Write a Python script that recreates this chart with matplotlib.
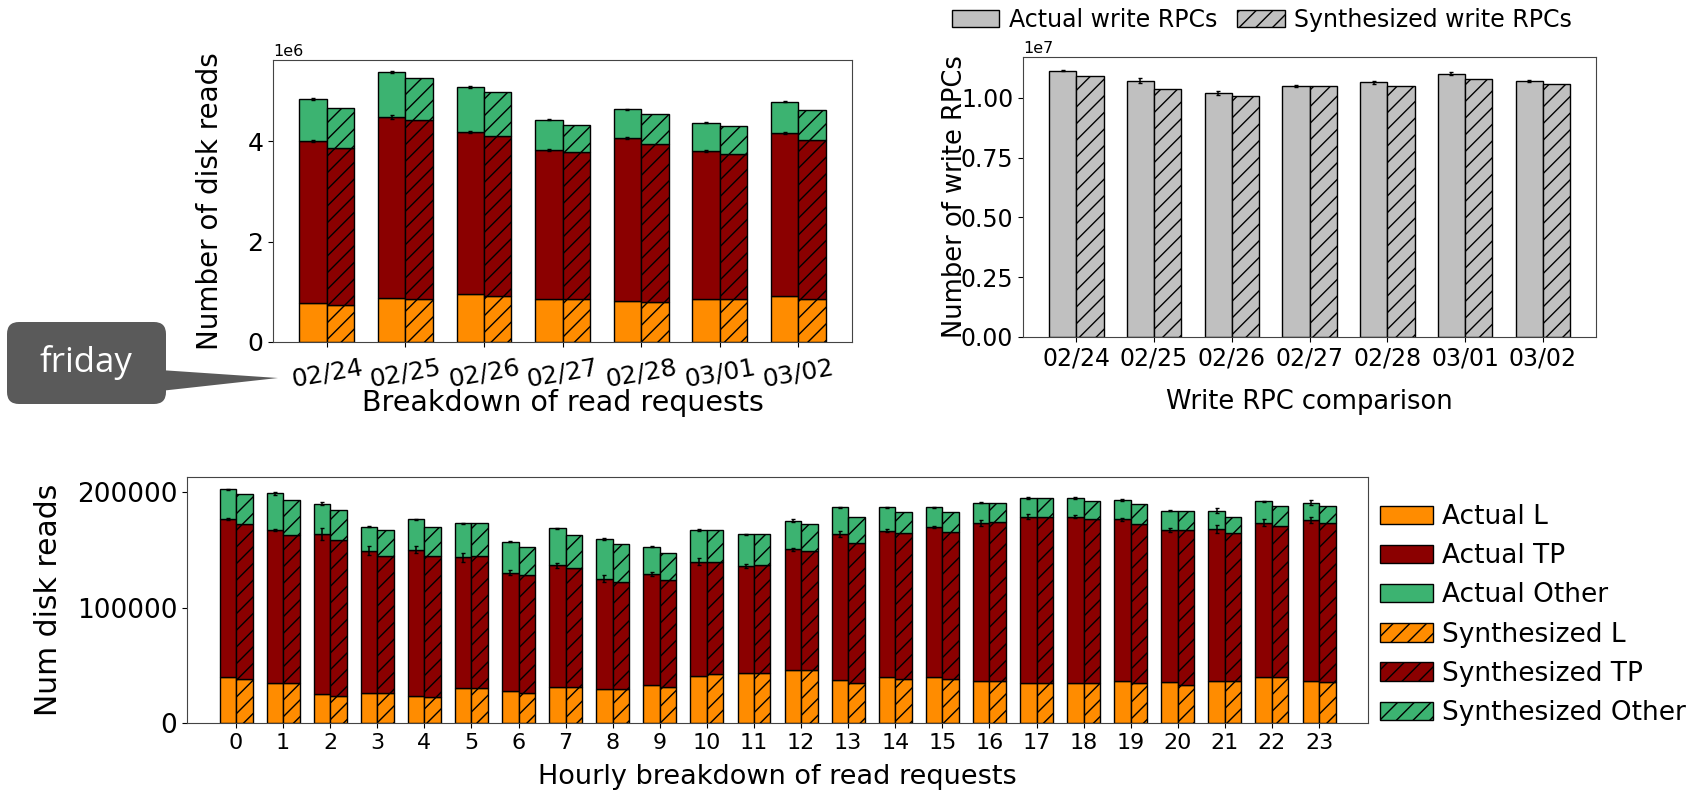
import numpy as np
import matplotlib
matplotlib.use("Agg")
import matplotlib.pyplot as plt
from matplotlib.patches import FancyBboxPatch, Polygon

# daily read breakdown (millions of disk reads)
dates = ["02/24", "02/25", "02/26", "02/27", "02/28", "03/01", "03/02"]
day_act_l = [0.77, 0.88, 0.95, 0.85, 0.82, 0.86, 0.92]
day_act_tp = [3.23, 3.61, 3.23, 2.98, 3.24, 2.95, 3.24]
day_act_other = [0.85, 0.88, 0.91, 0.60, 0.58, 0.56, 0.63]
day_syn_l = [0.73, 0.85, 0.92, 0.85, 0.79, 0.86, 0.86]
day_syn_tp = [3.14, 3.58, 3.19, 2.93, 3.16, 2.88, 3.17]
day_syn_other = [0.80, 0.83, 0.87, 0.55, 0.59, 0.56, 0.59]
day_err_tp = [0.02, 0.04, 0.02, 0.02, 0.02, 0.02, 0.02]
day_err_other = [0.02, 0.02, 0.02, 0.01, 0.01, 0.01, 0.01]

# daily write RPCs (x 1e7)
write_act = [1.115, 1.073, 1.021, 1.050, 1.065, 1.102, 1.071]
write_syn = [1.094, 1.036, 1.007, 1.051, 1.051, 1.079, 1.057]
write_err = [0.002, 0.012, 0.008, 0.005, 0.008, 0.006, 0.006]

# hourly read breakdown (thousands of disk reads)
hours = list(range(24))
hr_act_l = [39.8, 34.6, 25.4, 26.6, 24.0, 30.6, 28.0, 31.7, 29.4, 33.2, 41.0, 43.9,
            46.2, 37.5, 39.8, 39.8, 36.9, 34.6, 34.6, 36.9, 36.1, 36.9, 39.8, 36.9]
hr_act_tp = [136.8, 132.8, 138.5, 122.9, 126.1, 113.1, 102.4, 105.1, 95.9, 96.1, 98.7, 92.3,
             104.4, 126.4, 127.0, 129.9, 136.8, 144.3, 144.3, 139.7, 131.3, 131.6, 133.9, 139.1]
hr_act_other = [26.0, 31.7, 26.3, 20.8, 26.5, 29.5, 26.9, 32.0, 34.3, 23.7, 27.7, 27.4,
                24.9, 23.1, 20.2, 17.3, 17.4, 16.2, 16.2, 16.8, 16.7, 15.6, 18.5, 15.1]
hr_syn_l = [38.4, 34.6, 24.0, 26.6, 22.5, 30.6, 26.6, 31.7, 29.4, 31.7, 42.7, 43.9,
            46.2, 35.2, 38.4, 38.4, 36.9, 34.6, 34.6, 34.6, 33.2, 36.9, 39.8, 35.8]
hr_syn_tp = [134.2, 128.7, 134.4, 118.3, 122.4, 114.3, 101.5, 103.1, 93.3, 92.4, 97.0, 92.9,
             103.3, 121.2, 126.1, 127.6, 137.4, 143.8, 142.0, 138.0, 134.2, 127.6, 131.1, 137.9]
hr_syn_other = [26.2, 30.3, 26.3, 22.5, 25.4, 28.3, 24.9, 28.5, 32.6, 23.7, 27.7, 26.8,
                23.1, 22.5, 18.5, 17.0, 16.8, 16.7, 15.6, 17.3, 16.7, 14.4, 17.3, 14.5]
hr_err_tp = [1.0, 1.0, 5.0, 4.0, 3.0, 4.0, 2.0, 2.0, 3.0, 2.0, 3.0, 2.0,
             1.5, 3.0, 1.5, 1.0, 2.5, 2.0, 1.5, 1.5, 2.0, 3.5, 3.0, 3.0]
hr_err_other = [0.5, 1.0, 1.5, 0.5, 0.5, 0.5, 0.5, 0.5, 0.5, 0.5, 0.5, 0.5,
                1.5, 0.5, 0.5, 0.5, 0.5, 0.5, 0.5, 0.5, 0.5, 2.0, 0.5, 2.0]

colors = ["darkorange", "darkred", "mediumseagreen"]
parts = ["L", "TP", "Other"]
w = 0.35

plt.rcParams["font.family"] = "DejaVu Sans"
fig = plt.figure(figsize=(16.96, 7.94), dpi=100)


def stacked(ax, x, layers, hatch, prefix):
    bottom = np.zeros(len(x))
    for vals, c, p in zip(layers, colors, parts):
        vals = np.asarray(vals, dtype=float)
        ax.bar(x, vals, w, bottom=bottom, color=c, edgecolor="black", lw=1,
               hatch=hatch, label=f"{prefix} {p}")
        bottom = bottom + vals
    return bottom


def add_err(ax, x, layers, errs, scale):
    tops = np.cumsum(np.asarray(layers, dtype=float), axis=0)
    for lvl, e in errs:
        ax.errorbar(x, tops[lvl] * scale, yerr=np.asarray(e) * scale, fmt="none",
                    ecolor="black", elinewidth=1.1, capsize=1.2, zorder=5)


def style_spines(ax):
    for s in ax.spines.values():
        s.set_color("#444444")


# ---- top left: daily read breakdown
ax1 = fig.add_axes([0.161, 0.5693, 0.3414, 0.3552])
x = np.arange(len(dates))
act = [np.array(v) * 1e6 for v in (day_act_l, day_act_tp, day_act_other)]
syn = [np.array(v) * 1e6 for v in (day_syn_l, day_syn_tp, day_syn_other)]
stacked(ax1, x - w / 2, act, None, "Actual")
stacked(ax1, x + w / 2, syn, "//", "Synthesized")
add_err(ax1, x - w / 2, [day_act_l, day_act_tp, day_act_other],
        [(1, day_err_tp), (2, day_err_other)], 1e6)
ax1.set_ylim(0, 5.62e6)
ax1.set_xticks(x)
ax1.set_xticklabels(dates, rotation=10)
ax1.tick_params(labelsize=18)
ax1.tick_params(axis="x", pad=6)
ax1.yaxis.get_offset_text().set_fontsize(11.5)
ax1.set_ylabel("Number of disk reads", fontsize=20)
ax1.set_xlabel("Breakdown of read requests", fontsize=20.5)
ax1.yaxis.set_label_coords(-0.085, 0.5)
ax1.xaxis.set_label_coords(0.5, -0.165)
style_spines(ax1)

# ---- top right: write RPCs
ax2 = fig.add_axes([0.6032, 0.5756, 0.3379, 0.3526])
wa = np.array(write_act) * 1e7
ws = np.array(write_syn) * 1e7
ax2.bar(x - w / 2, wa, w, color="silver", edgecolor="black", lw=1,
        label="Actual write RPCs")
ax2.bar(x + w / 2, ws, w, color="silver", edgecolor="black", lw=1, hatch="//",
        label="Synthesized write RPCs")
ax2.errorbar(x - w / 2, wa, yerr=np.array(write_err) * 1e7, fmt="none",
             ecolor="black", elinewidth=1.1, capsize=1.2, zorder=5)
ax2.set_ylim(0, 1.1715e7)
ax2.set_yticks([0, 0.25e7, 0.5e7, 0.75e7, 1.0e7])
ax2.set_xticks(x)
ax2.set_xticklabels(dates)
ax2.tick_params(labelsize=17)
ax2.yaxis.get_offset_text().set_fontsize(11.5)
ax2.set_ylabel("Number of write RPCs", fontsize=18.5)
ax2.set_xlabel("Write RPC comparison", fontsize=18.5)
ax2.yaxis.set_label_coords(-0.096, 0.5)
ax2.xaxis.set_label_coords(0.5, -0.186)
style_spines(ax2)
h2, l2 = ax2.get_legend_handles_labels()
fig.legend(h2, l2, loc="center", bbox_to_anchor=(1262 / 1696, 1 - 20 / 794), ncol=2,
           frameon=False, fontsize=17, handletextpad=0.4, columnspacing=0.85,
           borderaxespad=0)

# ---- bottom: hourly read breakdown
ax3 = fig.add_axes([0.1103, 0.0890, 0.6963, 0.3106])
xh = np.arange(len(hours))
act_h = [np.array(v) * 1e3 for v in (hr_act_l, hr_act_tp, hr_act_other)]
syn_h = [np.array(v) * 1e3 for v in (hr_syn_l, hr_syn_tp, hr_syn_other)]
stacked(ax3, xh - w / 2, act_h, None, "Actual")
stacked(ax3, xh + w / 2, syn_h, "//", "Synthesized")
add_err(ax3, xh - w / 2, [hr_act_l, hr_act_tp, hr_act_other],
        [(1, hr_err_tp), (2, hr_err_other)], 1e3)
ax3.set_xlim(-1.04, 24.04)
ax3.set_ylim(0, 213500)
ax3.set_xticks(xh)
ax3.set_xticklabels([str(h) for h in hours])
ax3.tick_params(axis="x", labelsize=16)
ax3.tick_params(axis="y", labelsize=19)
ax3.set_ylabel("Num disk reads", fontsize=21.5)
ax3.set_xlabel("Hourly breakdown of read requests", fontsize=19.5)
ax3.yaxis.set_label_coords(-0.105, 0.5)
ax3.xaxis.set_label_coords(0.5, -0.165)
style_spines(ax3)
ax3.legend(loc="center left", bbox_to_anchor=(0.99, 0.439), frameon=False,
           fontsize=19, handletextpad=0.35)

# ---- "friday" callout
ov = fig.add_axes([0, 0, 1, 1], zorder=10)
ov.set_xlim(0, 1696)
ov.set_ylim(794, 0)
ov.axis("off")
ov.patch.set_alpha(0)
ov.add_patch(FancyBboxPatch((7, 322), 159, 82, boxstyle="round,pad=0,rounding_size=12",
                            fc="#5a5a5a", ec="none"))
ov.add_patch(Polygon([(160, 370), (160, 391), (278, 378)], closed=True,
                     fc="#5a5a5a", ec="none"))
ov.text(86, 362, "friday", color="white", fontsize=25, family="Open Sans",
        ha="center", va="center")

fig.savefig("out.png", dpi=100)
